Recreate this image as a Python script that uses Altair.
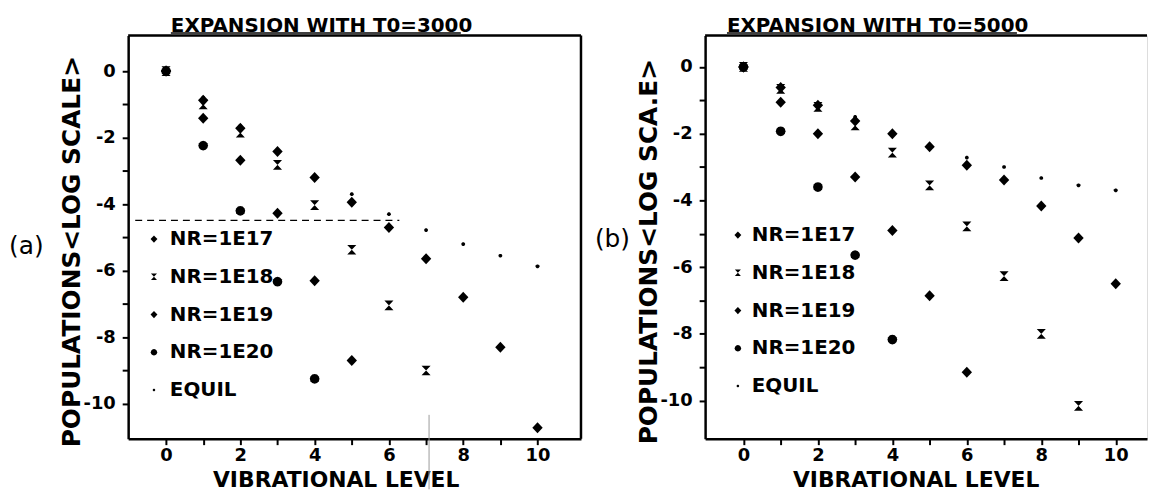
import math
import altair as alt
import pandas as pd

levels = list(range(11))
series_names = ["NR=1E17", "NR=1E18", "NR=1E19", "NR=1E20", "EQUIL"]

title_a = "EXPANSION WITH T0=3000"
title_b = "EXPANSION WITH T0=5000"
ytitle_a = "POPULATIONS<LOG SCALE>"
ytitle_b = "POPULATIONS<LOG SCA.E>"
xtitle = "VIBRATIONAL LEVEL"

# panel (a): T0 = 3000
a_1e17 = [0, -0.88, -1.72, -2.42, -3.2, -3.94, -4.7, -5.64, -6.8, -8.3, -10.72]
a_1e18 = [0, -1.0, -1.85, -2.82, -4.03, -5.37, -7.04, -9.0]
a_1e19 = [0, -1.42, -2.68, -4.27, -6.3, -8.7]
a_1e20 = [0, -2.24, -4.2, -6.33, -9.25]
a_equil = [0, -0.8, -1.65, -2.4, -3.15, -3.7, -4.3, -4.78, -5.2, -5.55, -5.87]
a_dash_x = [-0.83, 6.28]
a_dash_y = [-4.49, -4.49]

# panel (b): T0 = 5000
b_1e17 = [0, -0.62, -1.15, -1.62, -2.0, -2.39, -2.95, -3.39, -4.17, -5.13, -6.5]
b_1e18 = [0, -0.66, -1.2, -1.75, -2.57, -3.55, -4.78, -6.27, -8.0, -10.16]
b_1e19 = [0, -1.06, -2.0, -3.3, -4.9, -6.86, -9.15]
b_1e20 = [0, -1.93, -3.6, -5.64, -8.17]
b_equil = [0, -0.6, -1.1, -1.5, -2.0, -2.42, -2.72, -3.0, -3.33, -3.55, -3.7]

FONT = "DejaVu Sans"


def poly(r, n=12):
    pts = [(r * math.cos(2 * math.pi * k / n), r * math.sin(2 * math.pi * k / n)) for k in range(n)]
    return "M" + "L".join(f"{x:.3f},{y:.3f}" for x, y in pts) + "Z"


# marker glyphs drawn in the unit box [-1, 1]
DIAMOND = "M0,-0.85L0.8,0L0,0.85L-0.8,0Z"
HOURGLASS = "M-0.7,-0.75L0.7,-0.75L-0.7,0.75L0.7,0.75Z"
series_shapes = [DIAMOND, HOURGLASS, DIAMOND, poly(0.75), poly(0.3, 10)]


def frame(series_lists):
    rows = []
    for name, vals in zip(series_names, series_lists):
        for lv, v in zip(levels, vals):
            rows.append({"level": lv, "value": v, "series": name})
    return pd.DataFrame(rows)


def panel(df, xdom, ydom, w, h, title, ytitle, tag, tag_x, tag_y, title_dx,
          xtitle_x, lx, ly, loff, right_border, extra=None):
    leg = alt.Legend(title=None, orient="none", legendX=lx, legendY=ly,
                     labelFont=FONT, labelFontSize=20, labelFontWeight="bold",
                     labelColor="black", labelOffset=loff, rowPadding=18,
                     padding=0, symbolSize=75, symbolFillColor="black",
                     symbolStrokeWidth=0)
    xaxis = alt.Axis(values=levels, labelExpr="datum.value % 2 == 0 ? datum.label : ''",
                     title=xtitle, grid=False, domainColor="black", domainWidth=2.5,
                     tickColor="black", tickWidth=2, tickSize=6, labelFont=FONT,
                     labelFontSize=18, labelFontWeight="bold", labelColor="black",
                     labelPadding=2, labelOverlap=False, labelFlush=False,
                     titleFont=FONT, titleFontSize=22, titleFontWeight="bold",
                     titleColor="black", titleX=xtitle_x, titleY=48,
                     titleBaseline="alphabetic", titleAlign="center")
    yaxis = alt.Axis(values=list(range(-10, 1)),
                     labelExpr="datum.value % 2 == 0 ? replace(datum.label, '\u2212', '-') : ''",
                     title=ytitle, grid=False, domainColor="black", domainWidth=2.5,
                     tickColor="black", tickWidth=2, tickSize=6, labelFont=FONT,
                     labelFontSize=18, labelFontWeight="bold", labelColor="black",
                     labelPadding=7, labelOverlap=False, labelFlush=False,
                     titleFont=FONT, titleFontSize=25, titleFontWeight="bold",
                     titleColor="black", titleX=-57, titleY=h * 0.535,
                     titleBaseline="middle", titleAlign="center", titleAngle=270)
    xs = alt.Scale(domain=xdom, nice=False, zero=False)
    ys = alt.Scale(domain=ydom, nice=False, zero=False)
    pts = alt.Chart(df).mark_point(filled=True, opacity=1, color="black", size=170).encode(
        x=alt.X("level:Q", scale=xs, axis=xaxis),
        y=alt.Y("value:Q", scale=ys, axis=yaxis),
        shape=alt.Shape("series:N", scale=alt.Scale(domain=series_names, range=series_shapes), legend=leg),
    )
    layers = []
    if extra is not None:
        layers.extend(extra)
    layers.append(pts)
    one = pd.DataFrame({"t": [title]})
    layers.append(alt.Chart(one).mark_text(align="left", baseline="alphabetic", font=FONT,
                                           fontSize=20, fontWeight="bold", color="black").encode(
        text="t:N", x=alt.value(title_dx), y=alt.value(-4)))
    layers.append(alt.Chart(one).mark_rule(color="black", strokeWidth=1.5).encode(
        x=alt.value(title_dx), x2=alt.value(title_dx + 292), y=alt.value(-2.5)))
    layers.append(alt.Chart(one).mark_rule(color="black", strokeWidth=2.5).encode(
        x=alt.value(0), x2=alt.value(w), y=alt.value(0)))
    if right_border:
        layers.append(alt.Chart(one).mark_rule(color="black", strokeWidth=2.5).encode(
            x=alt.value(w), y=alt.value(0), y2=alt.value(h)))
    tg = pd.DataFrame({"t": [tag]})
    layers.append(alt.Chart(tg).mark_text(align="left", baseline="middle", font=FONT,
                                          fontSize=25, color="black").encode(
        text="t:N", x=alt.value(tag_x), y=alt.value(tag_y)))
    return alt.layer(*layers).properties(width=w, height=h)


df_a = frame([a_1e17, a_1e18, a_1e19, a_1e20, a_equil])
df_b = frame([b_1e17, b_1e18, b_1e19, b_1e20, b_equil])

dash_df = pd.DataFrame({"level": a_dash_x, "value": a_dash_y})
dash = alt.Chart(dash_df).mark_line(color="black", strokeWidth=1.3, strokeDash=[7, 5]).encode(
    x="level:Q", y="value:Q")
scan_line = alt.Chart(pd.DataFrame({"t": [0]})).mark_rule(color="#9a9a9a", strokeWidth=1).encode(
    x=alt.value(303), y=alt.value(382), y2=alt.value(457))

W_A, W_B, H = 456, 445, 406
left = panel(df_a, [-1.02, 11.17], [-11.05, 1.07], W_A, H, title_a, ytitle_a, "(a)", -120, 212,
             43, 209, 16, 195, 6, True, extra=[dash, scan_line])
right = panel(df_b, [-1.03, 10.84], [-11.14, 0.94], W_B, H, title_b, ytitle_b, "(b)", -111, 205,
              22, 212, 23, 191, 4, False)

chart = alt.hconcat(left, right, spacing=125, bounds="flush").resolve_scale(
    shape="independent", x="independent", y="independent"
).properties(padding={"left": 0, "top": 5, "right": 0, "bottom": 0}).configure_view(
    stroke=None).configure(background="white")

chart.save("out.html", embed_options={"renderer": "svg", "actions": False})
